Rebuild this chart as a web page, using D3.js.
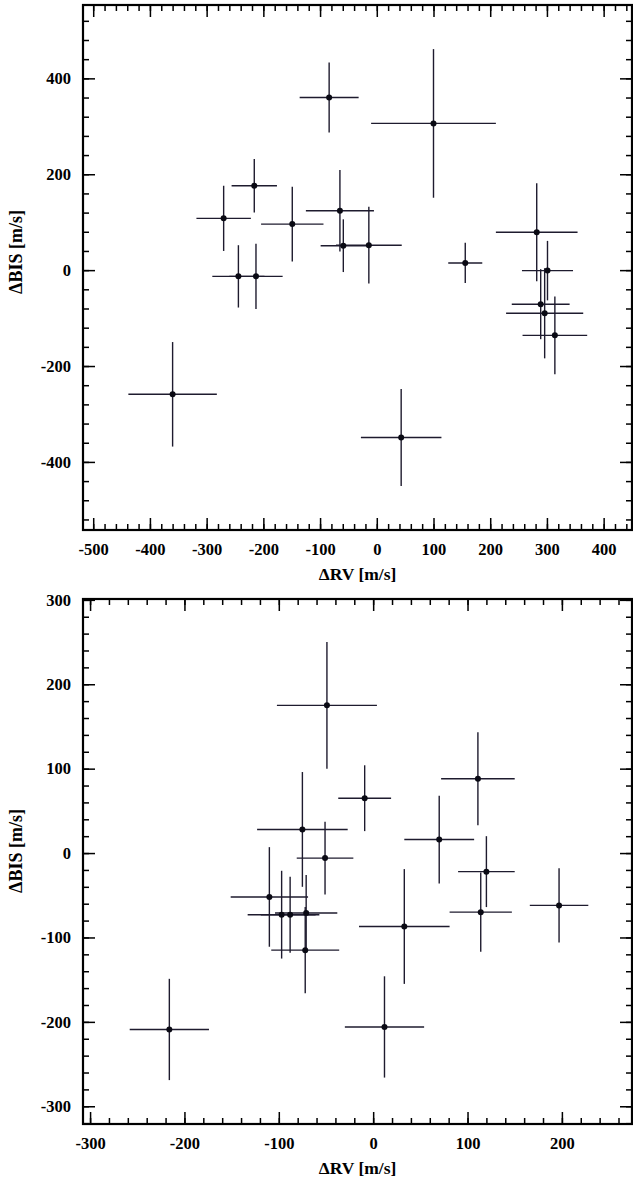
<!DOCTYPE html>
<html lang="en">
<head>
    <meta charset="UTF-8">
    <title>BIS vs RV</title>
    <script src="https://d3js.org/d3.v7.min.js"></script>
    <style>
        body { margin: 0; background: #fff; }
        svg text { font-family: "Liberation Serif", "Times New Roman", serif; font-weight: bold; fill: #000; }
    </style>
</head>
<body>
    <svg width="633" height="1180"></svg>
    <script>
        // top panel
        const rv1 = [-84, 100, -270, -216, -149, -244, -213, -65, -59, -14, 156, 282, 301, 289, 296, 314, -360, 43];
        const bis1 = [360, 306, 108, 176, 96, -13, -13, 124, 51, 52, 15, 79, -1, -71, -90, -136, -259, -349];
        const rvErr1 = [52, 110, 48, 40, 55, 46, 47, 60, 40, 58, 30, 72, 45, 51, 68, 57, 78, 71];
        const bisErr1 = [73, 155, 68, 56, 78, 65, 68, 85, 55, 80, 42, 102, 62, 73, 94, 81, 109, 101];

        // bottom panel
        const rv2 = [-49, -9, 111, 70, -51, -75, 120, 114, 197, 33, 12, -216, -110, -97, -88, -71, -72];
        const bis2 = [175, 65, 88, 16, -6, 28, -22, -70, -62, -87, -206, -209, -52, -73, -73, -71, -115];
        const rvErr2 = [53, 28, 39, 37, 30, 48, 30, 33, 31, 48, 42, 42, 41, 36, 31, 33, 36];
        const bisErr2 = [75, 39, 55, 52, 43, 68, 42, 47, 44, 68, 60, 60, 59, 52, 45, 45, 51];

        const xMajor1 = [-500, -400, -300, -200, -100, 0, 100, 200, 300, 400];
        const yMajor1 = [-400, -200, 0, 200, 400];
        const xMajor2 = [-300, -200, -100, 0, 100, 200];
        const yMajor2 = [-300, -200, -100, 0, 100, 200, 300];

        const svg = d3.select('svg');
        const errColor = '#1e1b2e';

        function panel(cfg) {
            const w = cfg.right - cfg.left, h = cfg.bottom - cfg.top;
            const g = svg.append('g').attr('transform', `translate(${cfg.left},${cfg.top})`);
            const x = d3.scaleLinear().domain(cfg.xDomain).range([0, w]);
            const y = d3.scaleLinear().domain(cfg.yDomain).range([h, 0]);

            const xMinor = d3.range(cfg.xMinorStart, cfg.xDomain[1], cfg.xMinorStep).filter(v => v >= cfg.xDomain[0]);
            const yMinor = d3.range(cfg.yMinorStart, cfg.yDomain[1], cfg.yMinorStep).filter(v => v >= cfg.yDomain[0]);

            // ticks point inward; plain hyphen for negatives like the original
            const tickAxis = (axis, vals, size, labels) => axis.tickValues(vals).tickSize(-size).tickPadding(labels ? 9 : 0)
                .tickFormat(labels ? (d => String(d)) : '');

            // minor ticks on all sides
            g.append('g').attr('transform', `translate(0,${h})`).call(tickAxis(d3.axisBottom(x), xMinor, 6, false));
            g.append('g').call(tickAxis(d3.axisTop(x), xMinor, 6, false));
            g.append('g').call(tickAxis(d3.axisLeft(y), yMinor, 6, false));
            g.append('g').attr('transform', `translate(${w},0)`).call(tickAxis(d3.axisRight(y), yMinor, 6, false));

            // major ticks
            const bx = g.append('g').attr('class', 'lab').attr('transform', `translate(0,${h})`)
                .call(tickAxis(d3.axisBottom(x), cfg.xMajor, 12, true));
            g.append('g').call(tickAxis(d3.axisTop(x), cfg.xMajor, 12, false));
            const ly = g.append('g').attr('class', 'lab').call(tickAxis(d3.axisLeft(y), cfg.yMajor, 12, true));
            g.append('g').attr('transform', `translate(${w},0)`).call(tickAxis(d3.axisRight(y), cfg.yMajor, 12, false));

            g.selectAll('.domain').remove();
            g.selectAll('.tick line').attr('stroke', '#000').attr('stroke-width', 1.5);
            g.selectAll('.lab text').attr('font-size', 16.5);
            bx.selectAll('text').attr('dy', '0.97em');
            ly.selectAll('text').attr('dx', '-0.18em');

            // frame
            g.append('rect').attr('width', w).attr('height', h)
                .attr('fill', 'none').attr('stroke', '#000').attr('stroke-width', 2.2);

            const pts = cfg.rv.map((v, i) => ({ x: v, y: cfg.bis[i], ex: cfg.rvErr[i], ey: cfg.bisErr[i] }));

            const eb = g.append('g').attr('stroke', errColor).attr('stroke-width', 1.4);
            eb.selectAll('.h').data(pts).join('line')
                .attr('x1', d => x(d.x - d.ex)).attr('x2', d => x(d.x + d.ex))
                .attr('y1', d => y(d.y)).attr('y2', d => y(d.y));
            eb.selectAll('.v').data(pts).join('line')
                .attr('x1', d => x(d.x)).attr('x2', d => x(d.x))
                .attr('y1', d => y(d.y - d.ey)).attr('y2', d => y(d.y + d.ey));
            g.append('g').selectAll('circle').data(pts).join('circle')
                .attr('cx', d => x(d.x)).attr('cy', d => y(d.y)).attr('r', 3).attr('fill', '#0a0a14');

            // axis titles
            svg.append('text').attr('x', (cfg.left + cfg.right) / 2).attr('y', cfg.bottom + 50)
                .attr('text-anchor', 'middle').attr('font-size', 17.5).text('ΔRV [m/s]');
            svg.append('text').attr('transform', `translate(22,${cfg.yTitleAt}) rotate(-90)`)
                .attr('text-anchor', 'middle').attr('font-size', 18).text('ΔBIS [m/s]');
        }

        panel({
            left: 83, top: 5, right: 632, bottom: 530, yTitleAt: 252,
            xDomain: [-518, 450], yDomain: [-542, 553],
            xMajor: xMajor1, yMajor: yMajor1,
            xMinorStart: -500, xMinorStep: 20, yMinorStart: -520, yMinorStep: 40,
            rv: rv1, bis: bis1, rvErr: rvErr1, bisErr: bisErr1
        });

        panel({
            left: 83, top: 599, right: 632, bottom: 1124, yTitleAt: 851,
            xDomain: [-307.5, 274.3], yDomain: [-321, 301],
            xMajor: xMajor2, yMajor: yMajor2,
            xMinorStart: -300, xMinorStep: 20, yMinorStart: -320, yMinorStep: 20,
            rv: rv2, bis: bis2, rvErr: rvErr2, bisErr: bisErr2
        });
    </script>
</body>
</html>
